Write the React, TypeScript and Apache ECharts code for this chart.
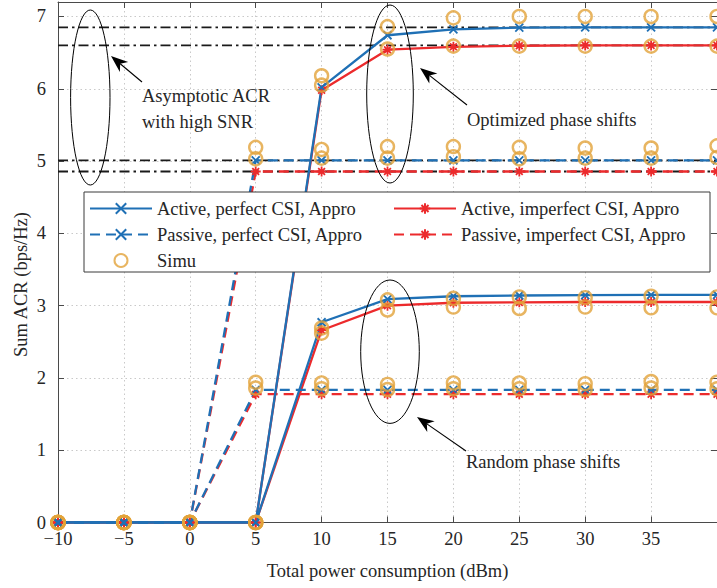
import React, { useEffect, useRef } from 'react';
import * as echarts from 'echarts';

// ---------- data ----------
const xValues = [-10, -5, 0, 5, 10, 15, 20, 25, 30, 35, 40];
const xTicks = { min: -10, max: 40, interval: 5 };
const yTicks = { min: 0, max: 7.2, interval: 1 };

// asymptotic ACR with high SNR (black dash-dot lines)
const asymptotes = [6.85, 6.6, 5.01, 4.855];

// optimized phase shifts (approximation)
const optActivePerfect = [0, 0, 0, 0, 6.02, 6.74, 6.82, 6.845, 6.85, 6.85, 6.85];
const optActiveImperfect = [0, 0, 0, 0, 5.98, 6.54, 6.58, 6.595, 6.6, 6.6, 6.6];
const optPassivePerfect = [0, 0, 0, 5.01, 5.01, 5.01, 5.01, 5.01, 5.01, 5.01, 5.01];
const optPassiveImperfect = [0, 0, 0, 4.855, 4.855, 4.855, 4.855, 4.855, 4.855, 4.855, 4.855];

// random phase shifts (approximation)
const rndActivePerfect = [0, 0, 0, 0, 2.77, 3.09, 3.13, 3.14, 3.145, 3.15, 3.15];
const rndActiveImperfect = [0, 0, 0, 0, 2.66, 3.0, 3.04, 3.045, 3.05, 3.05, 3.05];
const rndPassivePerfect = [0, 0, 0, 1.835, 1.835, 1.835, 1.835, 1.835, 1.835, 1.835, 1.835];
const rndPassiveImperfect = [0, 0, 0, 1.775, 1.775, 1.775, 1.775, 1.775, 1.775, 1.775, 1.775];

// simulation points
const simuOptActHigh = [0, 0, 0, 0, 6.18, 6.86, 6.98, 7.0, 7.0, 7.0, 7.0];
const simuOptActLow = [0, 0, 0, 0, 6.05, 6.55, 6.59, 6.59, 6.59, 6.59, 6.59];
const simuOptPasHigh = [0, 0, 0, 5.19, 5.16, 5.2, 5.2, 5.19, 5.18, 5.18, 5.21];
const simuOptPasLow = [0, 0, 0, 5.03, 5.04, 5.04, 5.06, 5.03, 5.04, 5.04, 5.05];
const simuRndActHigh = [0, 0, 0, 0, 2.69, 3.08, 3.1, 3.12, 3.11, 3.13, 3.12];
const simuRndActLow = [0, 0, 0, 0, 2.62, 2.94, 2.98, 2.96, 2.98, 2.97, 2.97];
const simuRndPasHigh = [0, 0, 0, 1.94, 1.93, 1.91, 1.93, 1.93, 1.92, 1.95, 1.94];
const simuRndPasLow = [0, 0, 0, 1.86, 1.85, 1.84, 1.85, 1.85, 1.84, 1.86, 1.85];

const NAME_AP = 'Active, perfect CSI, Appro';
const NAME_AI = 'Active, imperfect CSI, Appro';
const NAME_PP = 'Passive, perfect CSI, Appro';
const NAME_PI = 'Passive, imperfect CSI, Appro';
const NAME_SIMU = 'Simu';

// ---------- styles ----------
const FONT = '"Liberation Serif", "Times New Roman", serif';
const FS = 18.5;
const BLUE = '#1f70b5';
const RED = '#ec2a2c';
const ORANGE = '#e2a23a';
const DARK = '#262626';
const AXIS = '#4a4a4a';
const X_SYM = 'path://M0,0L10,10M10,0L0,10';
const STAR_SYM = 'path://M5,0L5,10M0,5L10,5M1.6,1.6L8.4,8.4M8.4,1.6L1.6,8.4';

function lineSeries(name: string, values: number[], color: string, dashed: boolean, symbol: string, size: number) {
  return {
    type: 'line',
    name,
    data: xValues.map((x, i) => [x, values[i]]),
    symbol,
    symbolSize: size,
    showSymbol: true,
    showAllSymbol: true,
    lineStyle: { color, width: 2.3, type: dashed ? [10, 6] : 'solid' },
    itemStyle: { color, borderColor: color, borderWidth: 1.8 },
    z: 2,
    silent: true,
  };
}

function arrow(x1: number, y1: number, x2: number, y2: number) {
  const dx = x2 - x1;
  const dy = y2 - y1;
  const len = Math.hypot(dx, dy);
  const ux = dx / len;
  const uy = dy / len;
  const hl = 17;
  const hw = 6.5;
  const bx = x2 - ux * hl;
  const by = y2 - uy * hl;
  const nx = x2 - ux * (hl - 5);
  const ny = y2 - uy * (hl - 5);
  return [
    { type: 'line', z: 10, shape: { x1, y1, x2: nx, y2: ny }, style: { stroke: '#000', lineWidth: 1.1 } },
    {
      type: 'polygon',
      z: 10,
      shape: { points: [[x2, y2], [bx - uy * hw, by + ux * hw], [nx, ny], [bx + uy * hw, by - ux * hw]] },
      style: { fill: '#000' },
    },
  ];
}

function label(text: string, x: number, y: number, extra: any = {}) {
  return {
    type: 'text',
    z: 10,
    x,
    y,
    ...extra,
    style: {
      text,
      font: `${FS}px ${FONT}`,
      fill: DARK,
      align: extra.center ? 'center' : 'left',
      textAlign: extra.center ? 'center' : 'left',
      verticalAlign: 'middle',
      textVerticalAlign: 'middle',
    },
  };
}

function ellipse(cx: number, cy: number, rx: number, ry: number) {
  return { type: 'ellipse', z: 10, shape: { cx, cy, rx, ry }, style: { fill: 'none', stroke: '#000', lineWidth: 1 } };
}

function buildOption() {
  const simuArrays = [
    simuOptActHigh, simuOptActLow, simuOptPasHigh, simuOptPasLow,
    simuRndActHigh, simuRndActLow, simuRndPasHigh, simuRndPasLow,
  ];
  const simuData: number[][] = [];
  simuArrays.forEach((arr) => arr.forEach((v, i) => simuData.push([xValues[i], v])));

  const asymSeries = asymptotes.map((v) => ({
    type: 'line',
    name: 'asym',
    data: [[xTicks.min, v], [xTicks.max, v]],
    symbol: 'none',
    lineStyle: { color: '#1a1a1a', width: 1.8, type: [10, 4, 2.5, 4] },
    z: 1,
    silent: true,
  }));

  const legendCommon = {
    orient: 'vertical',
    top: 199,
    padding: 0,
    itemWidth: 62,
    itemHeight: 13,
    itemGap: 7,
    selectedMode: false,
    textStyle: { fontFamily: FONT, fontSize: FS, color: DARK, lineHeight: 18 },
    z: 6,
  };

  const axisLabelStyle = { fontFamily: FONT, fontSize: FS, color: DARK };

  return {
    animation: false,
    backgroundColor: '#ffffff',
    grid: { left: 58, right: -1, top: 2, bottom: 65.5, containLabel: false },
    xAxis: [
      {
        type: 'value',
        position: 'bottom',
        ...xTicks,
        name: 'Total power consumption (dBm)',
        nameLocation: 'middle',
        nameGap: 39,
        nameTextStyle: { ...axisLabelStyle },
        axisLine: { show: true, onZero: false, lineStyle: { color: AXIS, width: 1 } },
        axisTick: { show: true, inside: true, length: 6, lineStyle: { color: AXIS } },
        axisLabel: {
          ...axisLabelStyle,
          margin: 7,
          showMaxLabel: false,
          formatter: (v: number) => (v === xTicks.max ? '' : String(v).replace('-', '\u2212')),
        },
        splitLine: { show: true, lineStyle: { color: '#c9c9c9', width: 1, type: [1.5, 3] } },
      },
      {
        type: 'value',
        position: 'top',
        ...xTicks,
        axisLine: { show: true, onZero: false, lineStyle: { color: AXIS, width: 1 } },
        axisTick: { show: true, inside: true, length: 6, lineStyle: { color: AXIS } },
        axisLabel: { show: false },
        splitLine: { show: false },
      },
    ],
    yAxis: [
      {
        type: 'value',
        position: 'left',
        ...yTicks,
        axisLine: { show: true, onZero: false, lineStyle: { color: AXIS, width: 1 } },
        axisTick: { show: true, inside: true, length: 6, lineStyle: { color: AXIS } },
        axisLabel: { ...axisLabelStyle, margin: 12, showMaxLabel: false,
          formatter: (v: number) => (Number.isInteger(v) ? String(v) : '') },
        splitLine: { show: true, lineStyle: { color: '#c9c9c9', width: 1, type: [1.5, 3] } },
      },
      {
        type: 'value',
        position: 'right',
        ...yTicks,
        axisLine: { show: true, onZero: false, lineStyle: { color: AXIS, width: 1 } },
        axisTick: { show: true, inside: true, length: 6, lineStyle: { color: AXIS } },
        axisLabel: { show: false },
        splitLine: { show: false },
      },
    ],
    legend: [
      { ...legendCommon, left: 89, data: [NAME_AP, NAME_PP, NAME_SIMU] },
      { ...legendCommon, left: 393, data: [NAME_AI, NAME_PI] },
    ],
    series: [
      ...asymSeries,
      lineSeries(NAME_AI, optActiveImperfect, RED, false, STAR_SYM, 10),
      lineSeries(NAME_AI, rndActiveImperfect, RED, false, STAR_SYM, 10),
      lineSeries(NAME_PI, optPassiveImperfect, RED, true, STAR_SYM, 10),
      lineSeries(NAME_PI, rndPassiveImperfect, RED, true, STAR_SYM, 10),
      lineSeries(NAME_AP, optActivePerfect, BLUE, false, X_SYM, 8),
      lineSeries(NAME_AP, rndActivePerfect, BLUE, false, X_SYM, 8),
      lineSeries(NAME_PP, optPassivePerfect, BLUE, true, X_SYM, 8),
      lineSeries(NAME_PP, rndPassivePerfect, BLUE, true, X_SYM, 8),
      {
        type: 'scatter',
        name: NAME_SIMU,
        data: simuData,
        symbol: 'circle',
        symbolSize: 13,
        itemStyle: { color: 'rgba(255,255,255,0)', borderColor: ORANGE, borderWidth: 2.4 },
        z: 2,
        silent: true,
      },
    ],
    graphic: [
      {
        type: 'rect',
        z: 5,
        shape: { x: 84, y: 192, width: 626, height: 80 },
        style: { fill: '#ffffff', stroke: '#3a3a3a', lineWidth: 1 },
      },
      ellipse(90.3, 97.5, 19.7, 87.5),
      ellipse(390, 94, 23.3, 89),
      ellipse(390, 351.7, 29.3, 71.7),
      ...arrow(142, 82, 111, 56),
      ...arrow(467, 105, 420, 68),
      ...arrow(466, 451, 417, 417),
      label('Asymptotic ACR', 142, 96.4),
      label('with high SNR', 142, 122),
      label('Optimized phase shifts', 467, 119.7),
      label('Random phase shifts', 466, 462),
      label('Sum ACR (bps/Hz)', 21, 284.5, { center: true, rotation: Math.PI / 2 }),
    ],
  };
}

export default function App() {
  const ref = useRef<HTMLDivElement>(null);
  useEffect(() => {
    document.body.style.margin = '0';
    const chart = echarts.init(ref.current as HTMLDivElement, undefined, { renderer: 'svg' });
    chart.setOption(buildOption() as any);
    return () => chart.dispose();
  }, []);
  return (
    <div
      ref={ref}
      style={{ position: 'absolute', left: 0, top: 0, width: 717, height: 588, overflow: 'hidden', background: '#fff' }}
    />
  );
}
